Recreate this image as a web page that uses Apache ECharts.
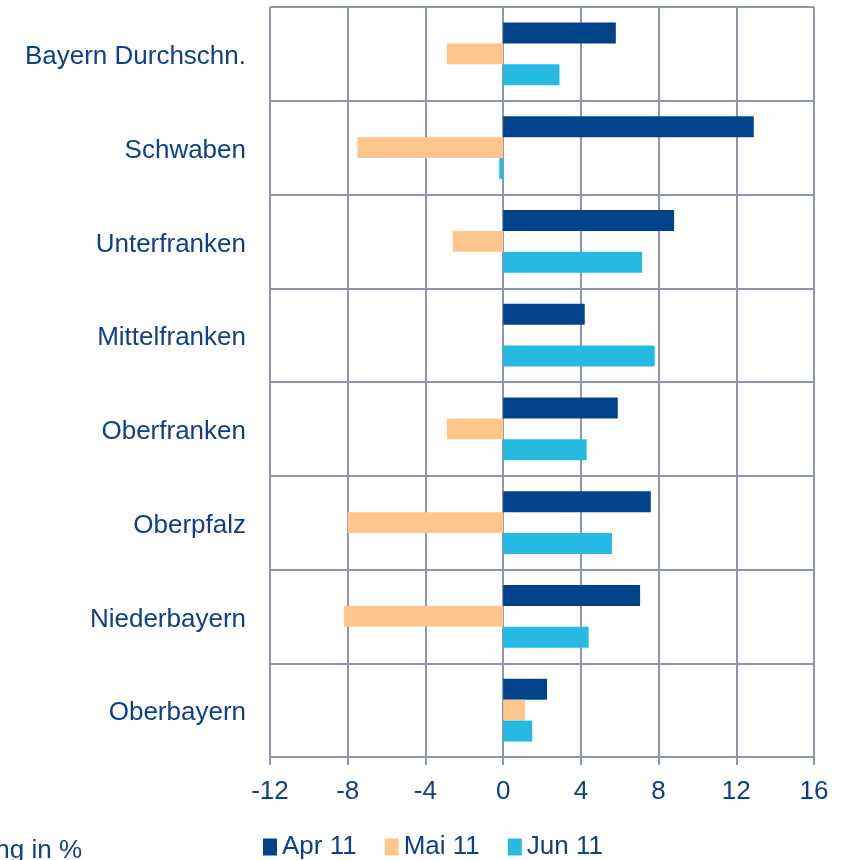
<!DOCTYPE html>
<html><head><meta charset="utf-8">
<script src="https://cdn.jsdelivr.net/npm/echarts@6/dist/echarts.min.js"></script>
<style>html,body{margin:0;padding:0;background:#fff}#c{width:844px;height:860px}</style>
</head><body><div id="c"></div>
<script>
const categories = ["Bayern Durchschn.", "Schwaben", "Unterfranken", "Mittelfranken", "Oberfranken", "Oberpfalz", "Niederbayern", "Oberbayern"];
const seriesNames = ["Apr 11", "Mai 11", "Jun 11"];
const apr11 = [5.8, 12.9, 8.8, 4.2, 5.9, 7.6, 7.05, 2.26];
const mai11 = [-2.9, -7.5, -2.6, 0, -2.9, -8.0, -8.2, 1.13];
const jun11 = [2.9, -0.2, 7.15, 7.8, 4.3, 5.6, 4.4, 1.5];
const xTicks = { min: -12, max: 16, interval: 4 };
const axisText = "Veränderung in %";

const txt = "#0d3f8c";
const gridCol = "#8d95b3";
const colors = ["#00438a", "#ffc68c", "#26bae2"];
const font = "'Liberation Sans', Arial, sans-serif";
const fs = 26;
const gridLeft = 270, gridRight = 30;
const plotW = 844 - gridLeft - gridRight;
const zeroOffset = -plotW * (0 - xTicks.min) / (xTicks.max - xTicks.min);
const chart = echarts.init(document.getElementById('c'));
const vals = [apr11, mai11, jun11];
chart.setOption({
  animation: false,
  grid: { left: gridLeft, right: gridRight, top: 7, bottom: 103 },
  legend: {
    data: seriesNames, left: 258, top: 829, itemWidth: 14, itemHeight: 17, itemGap: 28, icon: 'rect',
    textStyle: { color: txt, fontSize: fs, fontFamily: font }
  },
  xAxis: {
    type: 'value', min: xTicks.min, max: xTicks.max, interval: xTicks.interval,
    axisLine: { show: true, onZero: false, lineStyle: { color: gridCol, width: 2 } },
    axisTick: { show: true, length: 8, lineStyle: { color: gridCol, width: 2 } },
    splitLine: { show: true, lineStyle: { color: gridCol, width: 2 } },
    axisLabel: { color: txt, fontSize: fs, fontFamily: font, margin: 22 }
  },
  yAxis: [{
    type: 'category', data: categories, inverse: true,
    axisLine: { show: false }, axisTick: { show: false },
    splitLine: { show: true, lineStyle: { color: gridCol, width: 2 } },
    axisLabel: {
      margin: 24,
      formatter: v => '{a|' + v + '}',
      rich: { a: { color: txt, fontSize: fs, fontFamily: font, padding: [6, 0, 0, 0] } }
    }
  }, {
    type: 'category', data: categories, inverse: true, position: 'left', offset: zeroOffset,
    axisLine: { show: true, onZero: false, lineStyle: { color: gridCol, width: 2 } },
    axisTick: { show: true, length: 7, lineStyle: { color: gridCol, width: 2 } },
    axisLabel: { show: false }, splitLine: { show: false }
  }],
  series: seriesNames.map((n, i) => ({
    name: n, type: 'bar', data: vals[i], yAxisIndex: 0,
    barGap: '0%', barCategoryGap: '33%',
    itemStyle: { color: colors[i] }
  })),
  graphic: [{
    type: 'text', right: 762, top: 838,
    style: { text: axisText, fill: txt, fontSize: fs, fontFamily: font, textAlign: 'right' }
  }]
});
</script></body></html>
